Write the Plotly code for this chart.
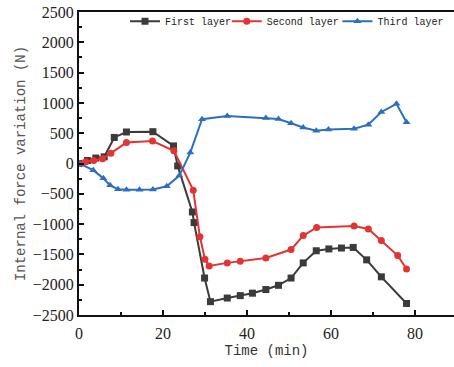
import plotly.graph_objects as go

# Data
t_first = [0, 2, 4, 6, 8.4, 11.3, 17.6, 22.5, 23.5, 27.0, 27.4, 29.9, 31.3, 35.3, 38.4,
           41.3, 44.5, 47.5, 50.5, 53.4, 56.5, 59.5, 62.5, 65.3, 68.5, 72.0, 78.0]
v_first = [0, 50, 90, 110, 430, 520, 525, 290, -40, -800, -975, -1890, -2280, -2220, -2180,
           -2140, -2080, -2010, -1890, -1640, -1440, -1410, -1395, -1385, -1590, -1870, -2310]

t_second = [0, 1.6, 3.5, 5.6, 7.6, 11.3, 17.5, 22.6, 27.2, 28.8, 30.0, 31.0, 35.3, 38.4,
            44.5, 50.5, 53.4, 56.6, 65.5, 68.9, 72.0, 75.9, 78.0]
v_second = [0, 30, 50, 80, 170, 345, 370, 210, -440, -1210, -1580, -1690, -1640, -1615,
            -1560, -1420, -1190, -1055, -1030, -1080, -1270, -1520, -1740]

t_third = [0, 3.4, 5.8, 7.4, 9.3, 11.3, 14.4, 17.6, 20.9, 23.9, 26.5, 29.3, 35.3, 44.5,
           47.5, 50.5, 53.4, 56.5, 59.4, 65.5, 68.9, 72.0, 75.6, 78.0]
v_third = [0, -110, -245, -360, -425, -435, -435, -430, -375, -200, 180, 730, 785, 750,
           735, 665, 595, 540, 560, 575, 640, 850, 985, 680]

x_ticks = [0, 20, 40, 60, 80]
y_ticks = [-2500, -2000, -1500, -1000, -500, 0, 500, 1000, 1500, 2000, 2500]

series = [
    ("First layer", t_first, v_first, "#3b3b3b", "square", "legend", 0.1227),
    ("Second layer", t_second, v_second, "#e33434", "circle", "legend2", 0.394),
    ("Third layer", t_third, v_third, "#2c6fbd", "triangle-up", "legend3", 0.689),
]

serif = "Liberation Serif"
mono = "Liberation Mono"

fig = go.Figure()
legends = {}
for name, t, v, col, sym, leg, lx in series:
    fig.add_trace(go.Scatter(
        x=t, y=v, name=name, mode="lines+markers",
        line=dict(color=col, width=2),
        marker=dict(symbol=sym, size=7, color=col),
        legend=leg,
    ))
    legends[leg] = dict(
        orientation="h", x=lx, y=1.017, xanchor="left", yanchor="top",
        font=dict(family=mono, size=10, color="#222"),
        bgcolor="rgba(0,0,0,0)", itemwidth=30,
    )

fig.update_layout(
    width=454, height=367,
    margin=dict(l=79, r=0, t=12, b=52, autoexpand=False),
    paper_bgcolor="white", plot_bgcolor="white",
    showlegend=True,
    **legends,
    xaxis=dict(
        range=[0, 89.3], tickvals=x_ticks, ticktext=[str(v) for v in x_ticks],
        showgrid=False, zeroline=False, automargin=False,
        showline=True, linecolor="#111", linewidth=2, mirror=True,
        ticks="inside", ticklen=5, tickwidth=1.5, tickcolor="#111",
        minor=dict(ticks="inside", ticklen=3, dtick=10, tickcolor="#111"),
        tickfont=dict(family=serif, size=16, color="#222"), ticklabelstandoff=3,
        ticklabeloverflow="allow",
        title=dict(text="Time (min)", font=dict(family=mono, size=14, color="#333"), standoff=4),
    ),
    yaxis=dict(
        range=[-2500, 2500], tickvals=y_ticks, ticktext=[str(v).replace("-", "\u2212") for v in y_ticks],
        showgrid=False, zeroline=False, automargin=False,
        showline=True, linecolor="#111", linewidth=2,
        ticks="inside", ticklen=5, tickwidth=1.5, tickcolor="#111",
        minor=dict(ticks="inside", ticklen=3, dtick=250, tickcolor="#111"),
        tickfont=dict(family=serif, size=16, color="#222"),
        ticklabeloverflow="allow",
        title=dict(text="Internal force variation (N)", font=dict(family=mono, size=14, color="#555"), standoff=4),
    ),
)

fig.write_html("out.html", config={"displayModeBar": False},
               post_script="document.body.style.margin='0';")
